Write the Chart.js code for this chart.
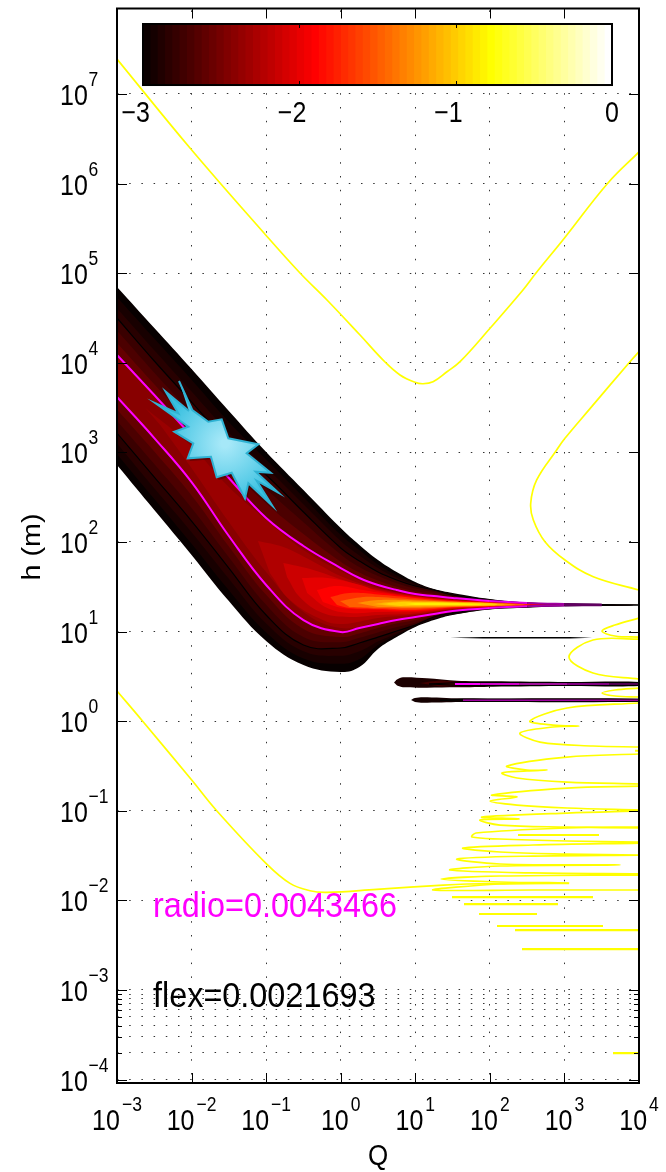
<!DOCTYPE html>
<html>
<head>
  <title>Q - h map</title>
  <style>
    html, body { margin: 0; padding: 0; background: #fff; }
    canvas { display: block; }
  </style>
</head>
<body>
  <canvas id="map" width="666" height="1172"></canvas>

  <script src="https://cdn.jsdelivr.net/npm/chart.js"></script>
  <script>
    // all curves are stored as log10(Q) and log10(h)
    const qGrid = [-3, -2.5, -2, -1.5, -1, -0.5, 0, 0.25, 0.5, 0.75, 1, 1.25, 1.5, 2, 2.5, 3, 3.5, 4];

    const edgeTop = [4.846, 4.388, 3.931, 3.462, 3.004, 2.580, 2.156, 1.967, 1.799, 1.665, 1.554, 1.475, 1.431, 1.364, 1.325, 1.314, 1.302, 1.297];
    const edgeBot = [2.859, 2.357, 1.855, 1.341, 0.895, 0.627, 0.549, 0.605, 0.806, 0.939, 1.051, 1.129, 1.185, 1.246, 1.266, 1.285, 1.291, 1.297];
    const band1Top = [4.73, 4.27, 3.81, 3.34, 2.92, 2.50, 2.08, 1.91, 1.75, 1.63, 1.54, 1.47, 1.42, 1.36, 1.32, 1.31, 1.30, 1.297];
    const band1Bot = [2.98, 2.48, 1.98, 1.46, 0.99, 0.70, 0.64, 0.69, 0.85, 0.96, 1.06, 1.14, 1.19, 1.25, 1.27, 1.29, 1.29, 1.297];
    const band2Top = [4.61, 4.14, 3.68, 3.22, 2.83, 2.42, 2.01, 1.85, 1.71, 1.60, 1.52, 1.47, 1.42, 1.35, 1.32, 1.31, 1.30, 1.297];
    const band2Bot = [3.10, 2.60, 2.11, 1.59, 1.09, 0.78, 0.73, 0.78, 0.89, 0.98, 1.07, 1.15, 1.20, 1.26, 1.28, 1.29, 1.29, 1.297];
    const blackTop = [4.500, 4.020, 3.562, 3.105, 2.748, 2.335, 1.933, 1.788, 1.665, 1.576, 1.509, 1.464, 1.408, 1.347, 1.319, 1.308, 1.301, 1.297];
    const blackBot = [3.216, 2.725, 2.234, 1.709, 1.185, 0.850, 0.817, 0.873, 0.939, 1.006, 1.073, 1.163, 1.207, 1.263, 1.280, 1.289, 1.293, 1.297];
    const band3Top = [4.36, 3.89, 3.44, 2.97, 2.59, 2.22, 1.86, 1.72, 1.62, 1.54, 1.48, 1.44, 1.40, 1.345, 1.32, 1.31, 1.30, 1.297];
    const band3Bot = [3.35, 2.87, 2.38, 1.83, 1.30, 0.94, 0.88, 0.93, 0.99, 1.05, 1.10, 1.17, 1.215, 1.263, 1.28, 1.29, 1.29, 1.297];
    const band4Top = [4.22, 3.76, 3.31, 2.84, 2.43, 2.09, 1.78, 1.66, 1.57, 1.50, 1.45, 1.42, 1.385, 1.34, 1.32, 1.31, 1.30, 1.297];
    const band4Bot = [3.48, 3.01, 2.52, 1.95, 1.41, 1.03, 0.94, 0.98, 1.04, 1.09, 1.13, 1.18, 1.22, 1.263, 1.28, 1.29, 1.29, 1.297];
    const magTop = [4.087, 3.640, 3.183, 2.714, 2.268, 1.955, 1.709, 1.598, 1.520, 1.464, 1.419, 1.397, 1.375, 1.341, 1.319, 1.308, 1.301, 1.297];
    const magBot = [3.618, 3.160, 2.669, 2.067, 1.520, 1.129, 0.995, 1.040, 1.085, 1.129, 1.163, 1.196, 1.230, 1.263, 1.282, 1.291, 1.294, 1.297];

    // closed levels around the bright core
    const core1Q = [-2.62, -2.02, -1.50, -1.00, -0.50, 0, 0.50, 1, 1.5, 2, 2.5, 3, 2.5, 2, 1.5, 1, 0.5, 0, -0.5, -1, -1.5, -2.02, -2.42];
    const core1H = [3.495, 3.082, 2.613, 2.245, 1.910, 1.676, 1.49, 1.408, 1.364, 1.336, 1.316, 1.302, 1.287, 1.270, 1.241, 1.179, 1.107, 1.040, 1.218, 1.665, 2.223, 2.848, 3.306];
    const core2Q = [-1.11, -0.77, -0.41, 0.03, 0.5, 1, 1.5, 2, 2.5, 2.87, 2.5, 2, 1.5, 1, 0.5, 0.03, -0.24, -0.68, -0.95];
    const core2H = [2.011, 1.944, 1.799, 1.609, 1.481, 1.403, 1.358, 1.332, 1.313, 1.300, 1.289, 1.275, 1.246, 1.190, 1.151, 1.084, 1.129, 1.352, 1.654];
    const core3Q = [-0.77, -0.41, 0.03, 0.5, 1, 1.5, 2, 2.5, 2.81, 2.5, 2, 1.5, 1, 0.5, 0.12, -0.24, -0.55, -0.72];
    const core3H = [1.765, 1.698, 1.576, 1.464, 1.397, 1.352, 1.330, 1.311, 1.300, 1.291, 1.274, 1.252, 1.202, 1.185, 1.163, 1.207, 1.386, 1.609];
    const core4Q = [-0.52, -0.18, 0.26, 0.5, 1, 1.5, 2, 2.5, 2.74, 2.5, 2, 1.5, 1, 0.5, 0.12, -0.18, -0.45];
    const core4H = [1.598, 1.598, 1.520, 1.453, 1.391, 1.349, 1.328, 1.309, 1.300, 1.293, 1.276, 1.257, 1.218, 1.218, 1.207, 1.263, 1.431];
    const core5Q = [-0.32, -0.05, 0.30, 0.5, 1, 1.5, 2, 2.67, 2, 1.5, 1, 0.5, 0.03, -0.24];
    const core5H = [1.464, 1.509, 1.464, 1.436, 1.386, 1.346, 1.326, 1.300, 1.280, 1.263, 1.230, 1.241, 1.263, 1.330];
    const core6Q = [-0.14, 0.12, 0.5, 1, 1.5, 2, 2.54, 2, 1.5, 1, 0.5, 0.12, -0.05];
    const core6H = [1.386, 1.431, 1.414, 1.375, 1.341, 1.323, 1.300, 1.283, 1.269, 1.241, 1.252, 1.263, 1.297];
    const core7Q = [-0.01, 0.30, 0.5, 1, 1.5, 2, 2.47, 2, 1.5, 1, 0.5, 0.12];
    const core7H = [1.341, 1.386, 1.386, 1.358, 1.337, 1.321, 1.300, 1.285, 1.274, 1.257, 1.263, 1.274];
    const core8Q = [0.22, 0.5, 1, 1.5, 2, 2.34, 2, 1.5, 1, 0.5];
    const core8H = [1.319, 1.352, 1.347, 1.332, 1.319, 1.300, 1.289, 1.280, 1.269, 1.274];
    const core9Q = [0.43, 0.73, 1, 1.5, 2, 2.20, 2, 1.5, 1, 0.73];
    const core9H = [1.308, 1.336, 1.336, 1.328, 1.317, 1.300, 1.292, 1.285, 1.280, 1.280];
    const core10Q = [0.55, 0.80, 1, 1.5, 2, 2.10, 2, 1.5, 1, 0.80];
    const core10H = [1.308, 1.330, 1.330, 1.323, 1.315, 1.300, 1.294, 1.291, 1.291, 1.285];
    const core11Q = [0.86, 1, 1.5, 1.89, 1.5, 1];
    const core11H = [1.308, 1.319, 1.319, 1.303, 1.297, 1.297];

    // thin islands on the right
    const isle1Q = [1.466, 1.908, 3.075, 3.370, 3.075, 1.908];
    const isle1H = [0.932, 0.939, 0.939, 0.932, 0.924, 0.924];
    const isle2Q = [0.715, 0.755, 0.835, 1.157, 1.559, 2.042, 3.035, 4, 4, 3.035, 2.042, 1.559, 1.157, 0.835, 0.755];
    const isle2H = [0.432, 0.465, 0.490, 0.479, 0.452, 0.445, 0.437, 0.437, 0.393, 0.393, 0.385, 0.378, 0.374, 0.378, 0.398];
    const isle2InQ = [1.063, 1.331, 1.559, 4, 4, 1.559, 1.331];
    const isle2InH = [0.426, 0.454, 0.44, 0.426, 0.404, 0.39, 0.387];
    const isle2LineQ = [1.184, 1.600, 4, 4, 1.600, 1.184];
    const isle2LineH = [0.415, 0.432, 0.432, 0.398, 0.398, 0.415];
    const isle2MagQ = [1.532, 1.87, 2.4, 3.035, 3.6, 4];
    const isle2MagH = [0.415, 0.415, 0.415, 0.415, 0.415, 0.415];
    const isle3Q = [0.943, 0.996, 1.104, 1.600, 4, 4, 1.600, 1.104, 0.996];
    const isle3H = [0.236, 0.258, 0.267, 0.255, 0.251, 0.217, 0.214, 0.206, 0.214];
    const isle3LineQ = [1.331, 1.640, 4, 4, 1.640, 1.331];
    const isle3LineH = [0.234, 0.245, 0.245, 0.223, 0.223, 0.234];
    const isle3MagQ = [1.640, 2.4, 3.035, 3.6, 4];
    const isle3MagH = [0.233, 0.233, 0.233, 0.233, 0.233];

    // yellow curves
    const upperQ = [-3, -2.021, -1.029, -0.546, -0.184, 0.259, 0.594, 0.795, 0.996, 1.104, 1.238, 1.425, 1.600, 2.002, 2.444, 2.619, 3.001, 3.584, 4];
    const upperH = [7.390, 6.397, 5.448, 5.002, 4.701, 4.310, 4.009, 3.864, 3.782, 3.766, 3.789, 3.900, 4.012, 4.385, 4.812, 5.002, 5.393, 6.007, 6.353];
    const rightQ = [4, 3.879, 3.343, 3.007, 2.896, 2.628, 2.548, 2.583, 2.739, 3.007, 3.387, 4];
    const rightH = [4.124, 4.012, 3.488, 3.157, 3.026, 2.692, 2.432, 2.245, 2.003, 1.799, 1.612, 1.464];
    const lowerQ = [-3, -2.661, -1.998, -1.663, -1.002, -0.680, -0.412, -0.188, 0.483, 1.375, 1.693, 2.136, 3.061];
    const lowerH = [0.337, 0.005, -0.657, -0.999, -1.586, -1.810, -1.892, -1.910, -1.877, -1.829, -1.817, -1.812, -1.810];
    const fineQ = [
      4, 3.678, 3.504, 3.678, 4, null,
      4, 3.383, 3.061, 3.383, 4, null,
      4, 3.678, 3.504, 3.678, 4, null,
      4, 3.035, 2.538, 2.847, 3.195, 2.847, 2.404, 2.672, 3.383, 4, null,
      4, 3.035, 2.230, 2.498, 2.766, 2.498, 2.163, 2.364, 3.035, 4, null,
      4, 3.035, 2.029, 2.364, 2.002, 2.364, 3.035, 4, null,
      4, 3.035, 1.895, 2.391, 1.868, 2.136, 3.035, 4, null,
      4, 3.035, 1.814, 1.761, 2.136, 3.035, 4, null,
      4, 2.579, 1.640, 2.136, 3.035, 4, null,
      4, 2.579, 1.559, 2.136, 3.745, 2.136, 1.466, 2.579, 4, null,
      4, 2.136, 1.345, 2.136, 3.061, 2.136, 1.238, 2.579, 4
    ];
    const fineH = [
      1.151, 1.073, 1.006, 0.951, 0.939, null,
      0.917, 0.906, 0.716, 0.538, 0.471, null,
      0.370, 0.348, 0.314, 0.281, 0.270, null,
      0.203, 0.147, 0.002, -0.043, -0.054, -0.065, -0.132, -0.233, -0.277, -0.288, null,
      -0.366, -0.400, -0.500, -0.545, -0.545, -0.556, -0.578, -0.634, -0.679, -0.701, null,
      -0.724, -0.746, -0.824, -0.846, -0.891, -0.936, -0.969, -0.991, null,
      -1.002, -1.025, -1.070, -1.092, -1.103, -1.159, -1.181, -1.192, null,
      -1.181, -1.192, -1.248, -1.293, -1.315, -1.337, -1.349, null,
      -1.360, -1.382, -1.416, -1.460, -1.483, -1.494, null,
      -1.494, -1.505, -1.538, -1.594, -1.605, -1.616, -1.661, -1.694, -1.705, null,
      -1.717, -1.728, -1.762, -1.795, -1.806, -1.817, -1.884, -1.884, -1.884
    ];
    const spikeQ = [2.377, 3.464, null, 1.492, 3.383, null, 1.653, 2.914, null, 1.854, 2.632, null, 2.096, 3.517, null, 2.337, 4, null, 2.431, 4, null, 3.651, 4, null, 3.947, 4];
    const spikeH = [-1.270, -1.270, null, -1.963, -1.963, null, -2.041, -2.041, null, -2.152, -2.152, null, -2.286, -2.286, null, -2.331, -2.331, null, -2.543, -2.543, null, -3.704, -3.704, null, -0.330, -0.330];

    // the blue star marker
    const starQ = [-2.169, -1.990, -1.776, -1.596, -1.507, -1.105, -1.261, -0.939, -1.140, -0.837, -1.127, -0.917, -1.239, -1.284, -1.462, -1.663, -1.740, -2.052, -1.977, -2.232, -2.044, -2.481, -2.178, -2.347, -2.035];
    const starH = [3.797, 3.473, 3.342, 3.369, 3.157, 3.090, 2.990, 2.773, 2.784, 2.550, 2.684, 2.405, 2.655, 2.487, 2.773, 2.722, 2.952, 2.934, 3.101, 3.231, 3.287, 3.548, 3.436, 3.677, 3.462];

    // colour bar cells
    const barLevels = [-3, -2.953, -2.906, -2.859, -2.813, -2.766, -2.719, -2.672, -2.625, -2.578, -2.531, -2.484, -2.438, -2.391, -2.344, -2.297, -2.25, -2.203, -2.156, -2.109, -2.063, -2.016, -1.969, -1.922, -1.875, -1.828, -1.781, -1.734, -1.688, -1.641, -1.594, -1.547, -1.5, -1.453, -1.406, -1.359, -1.313, -1.266, -1.219, -1.172, -1.125, -1.078, -1.031, -0.984, -0.938, -0.891, -0.844, -0.797, -0.75, -0.703, -0.656, -0.609, -0.563, -0.516, -0.469, -0.422, -0.375, -0.328, -0.281, -0.234, -0.188, -0.141, -0.094, -0.047];
    const barTicks = [-3, -2, -1, 0];
    const barBottomH = 7.100;
    const barTopH = 7.781;

    const xDecades = [-3, -2, -1, 0, 1, 2, 3, 4];
    const yDecades = [-4, -3, -2, -1, 0, 1, 2, 3, 4, 5, 6, 7];
    const yMinor = [2e-4, 3e-4, 4e-4, 5e-4, 6e-4, 7e-4, 8e-4, 9e-4];

    const radioLabel = 'radio=0.0043466';
    const flexLabel = 'flex=0.0021693';

    function pts(qs, hs) {
      return qs.map((q, i) => q === null ? { x: null, y: null } : { x: 10 ** q, y: 10 ** hs[i] });
    }
    function shape(data, color, extra) {
      return Object.assign({ data, showLine: true, fill: 'shape', backgroundColor: color, borderWidth: 0, pointRadius: 0, tension: 0.4 }, extra);
    }
    function band(top, bot, color) {
      return shape(pts(qGrid.concat(qGrid.slice().reverse()), top.concat(bot.slice().reverse())), color);
    }
    function curve(qs, hs, color, width, extra) {
      return Object.assign({ data: pts(qs, hs), showLine: true, fill: false, borderColor: color, borderWidth: width, pointRadius: 0, tension: 0.4 }, extra);
    }
    function hot(i) {
      const r = Math.min(1, (i + 1) / 24);
      const g = Math.max(0, Math.min(1, (i + 1 - 24) / 24));
      const b = Math.max(0, Math.min(1, (i + 1 - 48) / 16));
      return `rgb(${Math.round(r * 255)},${Math.round(g * 255)},${Math.round(b * 255)})`;
    }

    const sets = [];

    // colour bar
    barLevels.forEach((lv, i) => {
      sets.push(shape([
        { x: lv, y: 10 ** barBottomH }, { x: 0, y: 10 ** barBottomH },
        { x: 0, y: 10 ** barTopH }, { x: lv, y: 10 ** barTopH }
      ], hot(i), { xAxisID: 'cb', tension: 0 }));
    });

    // main wedge, outer to inner
    sets.push(band(edgeTop, edgeBot, '#070000'));
    sets.push(band(band1Top, band1Bot, '#180000'));
    sets.push(band(band2Top, band2Bot, '#280000'));
    sets.push(band(blackTop, blackBot, '#3a0000'));
    sets.push(band(band3Top, band3Bot, '#4c0000'));
    sets.push(band(band4Top, band4Bot, '#640000'));
    sets.push(band(magTop, magBot, '#880000'));
    sets.push(shape(pts(core1Q, core1H), '#9a0000'));
    sets.push(shape(pts(core2Q, core2H), '#b00000'));
    sets.push(shape(pts(core3Q, core3H), '#cc0000'));
    sets.push(shape(pts(core4Q, core4H), '#e60000'));
    sets.push(shape(pts(core5Q, core5H), '#ff0000'));
    sets.push(shape(pts(core6Q, core6H), '#ff3000'));
    sets.push(shape(pts(core7Q, core7H), '#ff6000'));
    sets.push(shape(pts(core8Q, core8H), '#ff9000'));
    sets.push(shape(pts(core9Q, core9H), '#ffb000'));
    sets.push(shape(pts(core10Q, core10H), '#ffd000'));
    sets.push(shape(pts(core11Q, core11H), '#ffee00'));

    sets.push(curve(qGrid, blackTop, '#000', 1.2));
    sets.push(curve(qGrid, blackBot, '#000', 1.2));
    // the magenta contours go dark where they thin out towards the tip
    const tipColors = { 13: '#e600e6', 14: '#a000a0', 15: '#600060' };
    const magSegment = { borderColor: c => tipColors[c.p0DataIndex] || '#ff00ff' };
    sets.push(curve(qGrid.slice(0, 17), magTop.slice(0, 17), '#ff00ff', 2, { segment: magSegment }));
    sets.push(curve(qGrid.slice(0, 17), magBot.slice(0, 17), '#ff00ff', 2, { segment: magSegment }));

    // islands
    sets.push(shape(pts(isle1Q, isle1H), '#000', { tension: 0 }));
    sets.push(shape(pts(isle2Q, isle2H), '#1c0000', { tension: 0.3 }));
    sets.push(shape(pts(isle2InQ, isle2InH), '#420000', { tension: 0.2 }));
    sets.push(curve(isle2LineQ, isle2LineH, '#000', 1, { tension: 0 }));
    const isle2Colors = ['#ff00ff', '#d000c8', '#a0109a', '#800080', '#500050'];
    sets.push(curve(isle2MagQ, isle2MagH, '#ff00ff', 2, { tension: 0, segment: { borderColor: c => isle2Colors[c.p0DataIndex] } }));
    sets.push(shape(pts(isle3Q, isle3H), '#140000', { tension: 0.3 }));
    sets.push(curve(isle3LineQ, isle3LineH, '#000', 1, { tension: 0 }));
    sets.push(curve(isle3MagQ, isle3MagH, '#a000a0', 1.5, { tension: 0 }));

    // yellow
    sets.push(curve(upperQ, upperH, '#ffff00', 1.7));
    sets.push(curve(rightQ, rightH, '#ffff00', 1.7));
    sets.push(curve(lowerQ, lowerH, '#ffff00', 1.7));
    sets.push(curve(fineQ, fineH, '#ffff00', 1.7, { tension: 0.35 }));
    sets.push(curve(spikeQ, spikeH, '#ffff00', 2.2, { tension: 0 }));

    // star with a soft offset shadow
    sets.push(shape(pts(starQ.map(q => q + 0.025), starH.map(h => h - 0.03)), 'rgba(30,0,0,0.35)', { tension: 0 }));
    const starSet = shape(pts(starQ, starH), '#6fd5ee', { borderColor: '#2fb2d3', borderWidth: 2, tension: 0 });
    sets.push(starSet);

    // first in the list is painted first
    sets.forEach((s, i) => { s.order = sets.length - i; });

    function stretched(ctx, text, x, y, size, sy, color, align, rot) {
      ctx.save();
      ctx.translate(x, y);
      ctx.scale(1, sy);
      if (rot) ctx.rotate(rot);
      ctx.font = `${size}px "Liberation Sans"`;
      ctx.fillStyle = color;
      ctx.textAlign = align || 'left';
      ctx.textBaseline = 'alphabetic';
      ctx.fillText(text, 0, 0);
      ctx.restore();
    }
    function expText(d) {
      return d < 0 ? '\u2212' + Math.abs(d) : String(d);
    }

    const frame = {
      id: 'frame',
      afterLayout(chart) {
        // the star gradient needs the finished scales
        const cx = chart.scales.x.getPixelForValue(10 ** -1.55);
        const cy = chart.scales.y.getPixelForValue(10 ** 3.1);
        const g = chart.ctx.createRadialGradient(cx, cy, 4, cx, cy, 62);
        g.addColorStop(0, '#a6e8f8');
        g.addColorStop(1, '#38c0e0');
        starSet.backgroundColor = g;
      },
      afterDraw(chart) {
        const { ctx, chartArea: a, scales } = chart;
        ctx.save();
        ctx.strokeStyle = '#000';

        // inward ticks on all four sides
        ctx.lineWidth = 1;
        ctx.beginPath();
        xDecades.slice(1, -1).forEach(d => {
          const px = Math.round(scales.x.getPixelForValue(10 ** d)) + 0.5;
          ctx.moveTo(px, a.top); ctx.lineTo(px, a.top + 10);
          ctx.moveTo(px, a.bottom); ctx.lineTo(px, a.bottom - 10);
        });
        yDecades.forEach(d => {
          const py = Math.round(scales.y.getPixelForValue(10 ** d)) + 0.5;
          ctx.moveTo(a.left, py); ctx.lineTo(a.left + 10, py);
          ctx.moveTo(a.right, py); ctx.lineTo(a.right - 10, py);
        });
        yMinor.forEach(v => {
          const py = Math.round(scales.y.getPixelForValue(v)) + 0.5;
          ctx.moveTo(a.left, py); ctx.lineTo(a.left + 5, py);
          ctx.moveTo(a.right, py); ctx.lineTo(a.right - 5, py);
        });
        ctx.stroke();

        // box
        ctx.lineWidth = 2;
        ctx.strokeRect(a.left, a.top, a.right - a.left, a.bottom - a.top);

        // colour bar frame and ticks
        const bl = scales.cb.getPixelForValue(barTicks[0]);
        const br = scales.cb.getPixelForValue(barTicks[3]);
        const bt = scales.y.getPixelForValue(10 ** barTopH);
        const bb = scales.y.getPixelForValue(10 ** barBottomH);
        ctx.strokeRect(bl, bt, br - bl, bb - bt);
        ctx.lineWidth = 1;
        ctx.beginPath();
        barTicks.slice(1, 3).forEach(v => {
          const px = Math.round(scales.cb.getPixelForValue(v)) + 0.5;
          ctx.moveTo(px, bt); ctx.lineTo(px, bt + 4);
          ctx.moveTo(px, bb); ctx.lineTo(px, bb - 4);
        });
        ctx.stroke();
        ctx.restore();

        barTicks.forEach(v => {
          const px = scales.cb.getPixelForValue(v);
          stretched(ctx, expText(v), px + 7, 122, 25, 1.15, '#000', 'right');
        });

        // y tick labels
        yDecades.forEach(d => {
          const py = scales.y.getPixelForValue(10 ** d);
          stretched(ctx, '10', 60, py + 11, 25, 1.15, '#000');
          stretched(ctx, expText(d), 88.5, py - 8, 17.5, 1.15, '#000');
        });

        // x tick labels, centred as a pair
        xDecades.forEach(d => {
          const px = scales.x.getPixelForValue(10 ** d);
          ctx.font = '17.5px "Liberation Sans"';
          const w2 = ctx.measureText(expText(d)).width;
          ctx.font = '25px "Liberation Sans"';
          const w1 = ctx.measureText('10').width;
          const start = px - (w1 + 2 + w2) / 2;
          stretched(ctx, '10', start, 1130, 25, 1.15, '#000');
          stretched(ctx, expText(d), start + w1 + 2, 1111, 17.5, 1.15, '#000');
        });

        stretched(ctx, 'Q', 378, 1165, 26, 1.1, '#000', 'center');
        stretched(ctx, 'h (m)', 40, 547, 25, 1.15, '#000', 'center', -Math.PI / 2);
        stretched(ctx, radioLabel, 153, 917, 32.4, 1.08, '#ff00ff');
        stretched(ctx, flexLabel, 153, 1007, 32.4, 1.1, '#000');
      }
    };

    new Chart(document.getElementById('map'), {
      type: 'scatter',
      data: { datasets: sets },
      options: {
        responsive: false,
        animation: false,
        events: [],
        layout: { padding: { left: 117, right: 27, top: 8.5, bottom: 89 } },
        plugins: { legend: { display: false }, tooltip: { enabled: false } },
        scales: {
          x: {
            type: 'logarithmic',
            min: 1e-3,
            max: 1e4,
            afterBuildTicks: s => { s.ticks = xDecades.slice(1, -1).map(d => ({ value: 10 ** d })); },
            ticks: { display: false },
            grid: { color: '#333', lineWidth: 1, drawTicks: false },
            border: { display: false, dash: [1.5, 12.3], dashOffset: -1.9 }
          },
          y: {
            type: 'logarithmic',
            min: 10 ** -4.038,
            max: 10 ** 7.954,
            afterBuildTicks: s => { s.ticks = yDecades.map(d => 10 ** d).concat(yMinor).map(v => ({ value: v })); },
            ticks: { display: false },
            grid: { color: '#333', lineWidth: 1, drawTicks: false },
            border: { display: false, dash: [1.5, 10.7] }
          },
          cb: { axis: 'x', type: 'linear', display: false, min: -3.1663, max: 0.1727 }
        }
      },
      plugins: [frame]
    });
  </script>
</body>
</html>
